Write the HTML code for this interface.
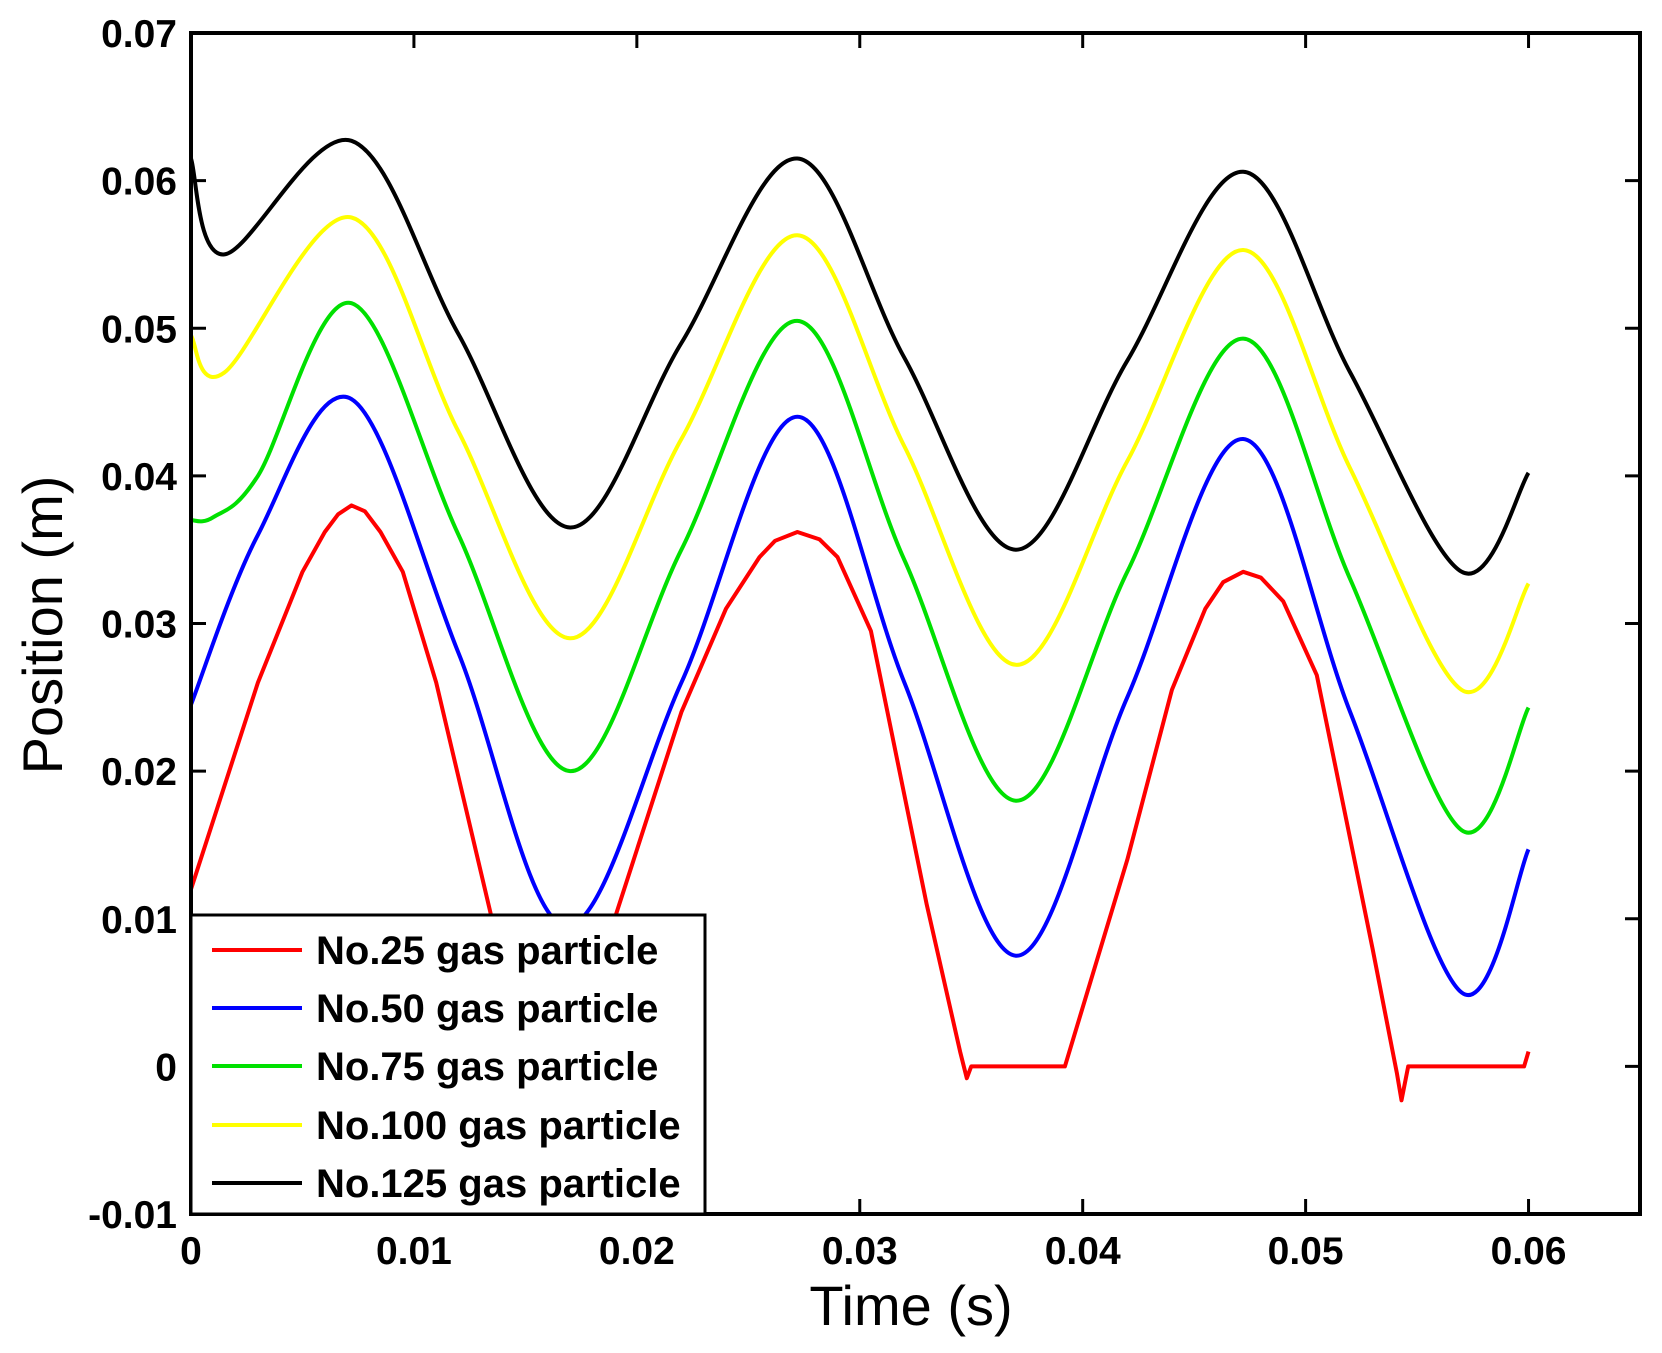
<!DOCTYPE html>
<html><head><meta charset="utf-8"><style>
html,body{margin:0;padding:0;background:#fff;}
svg{display:block;font-family:"Liberation Sans",Arial,sans-serif;}
</style></head><body>
<svg id="chart" width="1662" height="1353" viewBox="0 0 1662 1353"></svg>
<script>
const xTicks=[0,0.01,0.02,0.03,0.04,0.05,0.06];
const xTickLabels=["0","0.01","0.02","0.03","0.04","0.05","0.06"];
const yTicks=[-0.01,0,0.01,0.02,0.03,0.04,0.05,0.06,0.07];
const yTickLabels=["-0.01","0","0.01","0.02","0.03","0.04","0.05","0.06","0.07"];
const seriesNames=["No.25 gas particle","No.50 gas particle","No.75 gas particle","No.100 gas particle","No.125 gas particle"];
const seriesColors=["#ff0000","#0000ff","#00e000","#ffff00","#000000"];
const redT=[0,0.003,0.005,0.006,0.0066,0.0072,0.0078,0.0085,0.0095,0.011,0.0135,0.0165,0.019,0.022,0.024,0.0255,0.0262,0.0272,0.0282,0.029,0.0305,0.033,0.0345,0.0348,0.035,0.0392,0.042,0.044,0.0455,0.0463,0.0472,0.048,0.049,0.0505,0.053,0.0541,0.0543,0.0546,0.0598,0.06];
const redV=[0.012,0.026,0.0335,0.0362,0.0374,0.038,0.0376,0.0362,0.0335,0.026,0.01,0.0015,0.01,0.024,0.031,0.0345,0.0356,0.0362,0.0357,0.0345,0.0295,0.011,0.001,-0.0008,0,0,0.014,0.0255,0.031,0.0328,0.0335,0.0331,0.0315,0.0265,0.008,-0.0005,-0.0023,0,0,0.001];
const blueT=[0,0.003,0.0072,0.012,0.0168,0.022,0.0272,0.032,0.037,0.042,0.0472,0.052,0.057,0.06];
const blueV=[0.0245,0.036,0.0452,0.028,0.0095,0.026,0.044,0.026,0.0075,0.025,0.0425,0.024,0.005,0.0147];
const greenT=[0,0.001,0.003,0.0072,0.012,0.017,0.022,0.0272,0.032,0.037,0.042,0.0472,0.052,0.057,0.06];
const greenV=[0.037,0.0372,0.040,0.0517,0.036,0.020,0.035,0.0505,0.0343,0.018,0.0335,0.0493,0.033,0.016,0.0243];
const yellowT=[0,0.0015,0.0072,0.012,0.017,0.022,0.0272,0.032,0.037,0.042,0.0472,0.052,0.057,0.06];
const yellowV=[0.0495,0.047,0.0575,0.043,0.029,0.0425,0.0563,0.042,0.0272,0.041,0.0553,0.0405,0.0255,0.0327];
const blackT=[0,0.0015,0.0072,0.012,0.017,0.022,0.0272,0.032,0.037,0.042,0.0472,0.052,0.057,0.06];
const blackV=[0.0615,0.055,0.0627,0.0496,0.0365,0.049,0.0615,0.048,0.035,0.0478,0.0606,0.047,0.0335,0.0402];

const L=191,R=1640,T=33,B=1214;
const xMin=0,xMax=0.065,yMin=-0.01,yMax=0.07;
const sx=v=>L+(v-xMin)/(xMax-xMin)*(R-L);
const sy=v=>B-(v-yMin)/(yMax-yMin)*(B-T);
const NS="http://www.w3.org/2000/svg";
const svg=document.getElementById('chart');
function mk(tag,attrs,parent){const e=document.createElementNS(NS,tag);for(const k in attrs)e.setAttribute(k,attrs[k]);(parent||svg).appendChild(e);return e;}

function linePath(ts,vs){return ts.map((t,i)=>(i?'L':'M')+sx(t).toFixed(1)+','+sy(vs[i]).toFixed(1)).join(' ');}
function splinePath(ts,vs){
  const p=ts.map((t,i)=>[sx(t),sy(vs[i])]);
  let d='M'+p[0][0].toFixed(1)+','+p[0][1].toFixed(1);
  for(let i=0;i<p.length-1;i++){
    const p0=p[i-1]||p[i],p1=p[i],p2=p[i+1],p3=p[i+2]||p[i+1];
    const c1=[p1[0]+(p2[0]-p0[0])/6,p1[1]+(p2[1]-p0[1])/6];
    const c2=[p2[0]-(p3[0]-p1[0])/6,p2[1]-(p3[1]-p1[1])/6];
    d+=` C${c1[0].toFixed(1)},${c1[1].toFixed(1)} ${c2[0].toFixed(1)},${c2[1].toFixed(1)} ${p2[0].toFixed(1)},${p2[1].toFixed(1)}`;
  }
  return d;
}
const series=[[redT,redV,false],[blueT,blueV,true],[greenT,greenV,true],[yellowT,yellowV,true],[blackT,blackV,true]];
const seriesKeys=["series-no25","series-no50","series-no75","series-no100","series-no125"];
series.forEach((s,i)=>{
  const p=mk('path',{d:s[2]?splinePath(s[0],s[1]):linePath(s[0],s[1]),fill:'none',stroke:seriesColors[i],'stroke-width':4,'stroke-linejoin':'round'});
  
  
});

const fr=mk('rect',{x:L,y:T,width:R-L,height:B-T,fill:'none',stroke:'#000','stroke-width':4});


xTicks.forEach((v,i)=>{
  const x=sx(v);
  mk('line',{x1:x,y1:B,x2:x,y2:B-15,stroke:'#000','stroke-width':3});
  mk('line',{x1:x,y1:T,x2:x,y2:T+15,stroke:'#000','stroke-width':3});
  const t=mk('text',{x:x,y:B+50,'text-anchor':'middle','font-size':39,'font-weight':'bold'});
  t.textContent=xTickLabels[i];
  
  
});
yTicks.forEach((v,i)=>{
  const y=sy(v);
  mk('line',{x1:L,y1:y,x2:L+15,y2:y,stroke:'#000','stroke-width':3});
  mk('line',{x1:R,y1:y,x2:R-15,y2:y,stroke:'#000','stroke-width':3});
  const t=mk('text',{x:L-14,y:y+14,'text-anchor':'end','font-size':39,'font-weight':'bold'});
  t.textContent=yTickLabels[i];
  
  
});
const xt=mk('text',{x:911,y:1325,'text-anchor':'middle','font-size':56});
xt.textContent='Time (s)';


const yt=mk('text',{x:0,y:0,'text-anchor':'middle','font-size':56,transform:'translate(62,625) rotate(-90)'});
yt.textContent='Position (m)';



const lg=mk('g',{});


mk('rect',{x:L,y:915,width:514,height:B-915,fill:'#fff',stroke:'#000','stroke-width':3},lg);
const legY=[950,1008,1066,1125,1183];
seriesNames.forEach((n,i)=>{
  const g=mk('g',{},lg);
  
  
  mk('line',{x1:212,y1:legY[i],x2:302,y2:legY[i],stroke:seriesColors[i],'stroke-width':4},g);
  const t=mk('text',{x:316,y:legY[i]+14,'font-size':40,'font-weight':'bold'},g);
  t.textContent=n;
});
</script>
</body></html>
